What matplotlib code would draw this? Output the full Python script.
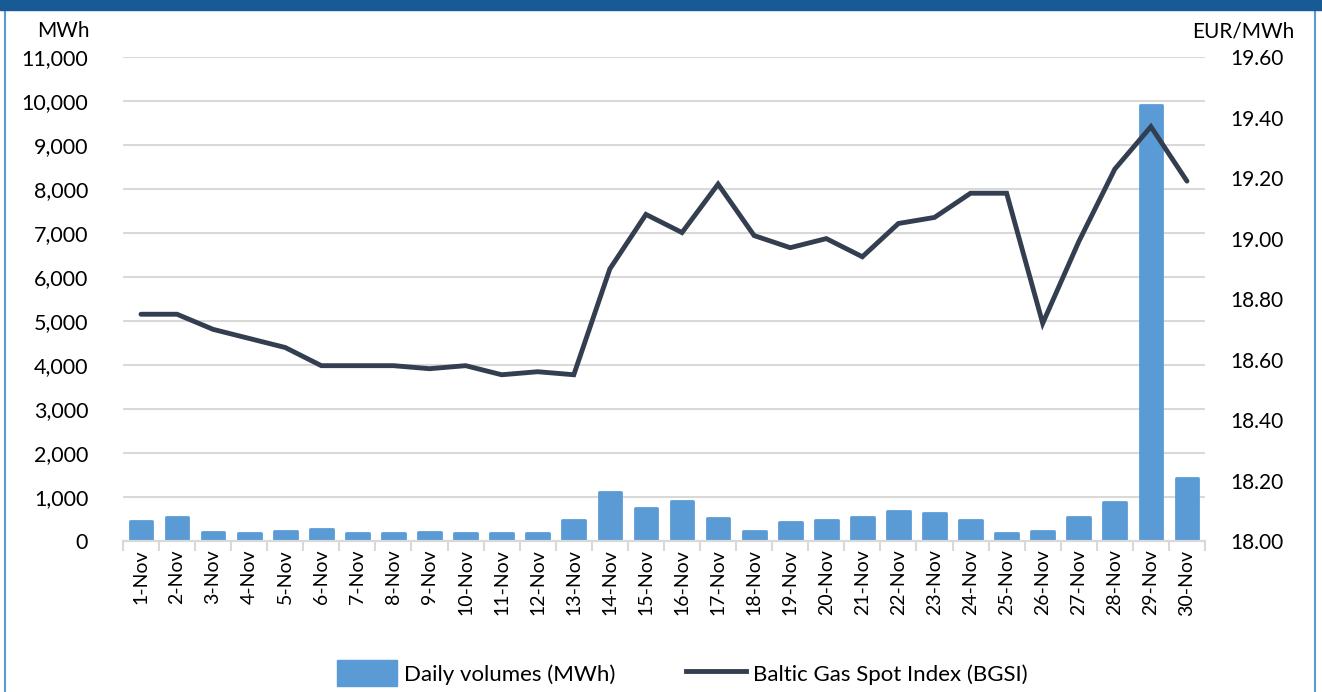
import matplotlib
matplotlib.use('Agg')
import matplotlib.pyplot as plt
from matplotlib.patches import Rectangle
from matplotlib.lines import Line2D
from matplotlib.ticker import FuncFormatter, MultipleLocator

plt.rcParams['font.family'] = ['Lato', 'DejaVu Sans']

days = [f"{d}-Nov" for d in range(1, 31)]
volumes = [455, 545, 210, 190, 235, 270, 190, 190, 200, 175,
           175, 190, 485, 1107, 750, 910, 515, 235, 425, 477,
           560, 682, 630, 477, 182, 235, 552, 880, 9900, 1425]
bgsi = [18.75, 18.75, 18.70, 18.67, 18.64, 18.58, 18.58, 18.58, 18.57, 18.58,
        18.55, 18.56, 18.55, 18.90, 19.08, 19.02, 19.18, 19.01, 18.97, 19.00,
        18.94, 19.05, 19.07, 19.15, 19.15, 18.72, 18.99, 19.23, 19.37, 19.19]

bar_color = '#5B9BD5'
line_color = '#333F50'
grid_color = '#D9D9D9'

fig = plt.figure(figsize=(13.22, 6.92), dpi=100)
ax = fig.add_axes([0.093, 0.218, 0.8185, 0.6995])
ax2 = ax.twinx()

x = list(range(len(days)))
ax.bar(x, volumes, width=0.63, color=bar_color, edgecolor=bar_color,
       linewidth=2, joinstyle='round', zorder=2)
ax2.plot(x, bgsi, color=line_color, linewidth=3.5, solid_capstyle='round',
         solid_joinstyle='miter', zorder=3)

ax.set_xlim(-0.5, len(days) - 0.5)
ax.set_ylim(0, 11000)
ax2.set_ylim(18.0, 19.6)
ax.yaxis.set_major_locator(MultipleLocator(1000))
ax2.yaxis.set_major_locator(MultipleLocator(0.2))
ax.yaxis.set_major_formatter(FuncFormatter(lambda v, p: f"{v:,.0f}"))
ax2.yaxis.set_major_formatter(FuncFormatter(lambda v, p: f"{v:.2f}"))

ax.grid(axis='y', color=grid_color, linewidth=1.5, zorder=0)
ax.set_axisbelow(True)

ax.set_xticks(x)
ax.set_xticklabels(days, rotation=90, fontsize=14)
ax.set_xticks([i - 0.5 for i in range(len(days) + 1)], minor=True)
ax.tick_params(axis='x', which='major', length=0, pad=6)
ax.tick_params(axis='x', which='minor', length=7, color=grid_color, width=1.5)
ax.tick_params(axis='y', length=0, labelsize=15.5, pad=25)
ax2.tick_params(axis='y', length=0, labelsize=15, pad=18)

for a in (ax, ax2):
    for s in ['top', 'left', 'right']:
        a.spines[s].set_visible(False)
    a.spines['bottom'].set_color(grid_color)
    a.spines['bottom'].set_linewidth(1.5)

fig.text(0.028, 0.955, 'MWh', fontsize=15, ha='left', va='center')
fig.text(0.979, 0.955, 'EUR/MWh', fontsize=15, ha='right', va='center')

handles = [Rectangle((0, 0), 1, 1, color=bar_color),
           Line2D([0], [0], color=line_color, linewidth=3.5)]
fig.legend(handles, ['Daily volumes (MWh)', 'Baltic Gas Spot Index (BGSI)'],
           loc='center', bbox_to_anchor=(0.516, 0.027), ncol=2, frameon=False,
           fontsize=16, handlelength=2.7, handleheight=1.4,
           columnspacing=3.2, handletextpad=0.3)

# frame like the source report
fig.patches.append(Rectangle((0, 0.985), 1, 0.015, transform=fig.transFigure,
                             color='#175A96', zorder=5))
fig.add_artist(Line2D([0.004, 0.004], [0, 0.985], transform=fig.transFigure,
                      color='#5B9BD5', linewidth=1.5))
fig.add_artist(Line2D([0.995, 0.995], [0, 0.985], transform=fig.transFigure,
                      color='#5B9BD5', linewidth=1.5))

fig.savefig('out.png', dpi=100)
